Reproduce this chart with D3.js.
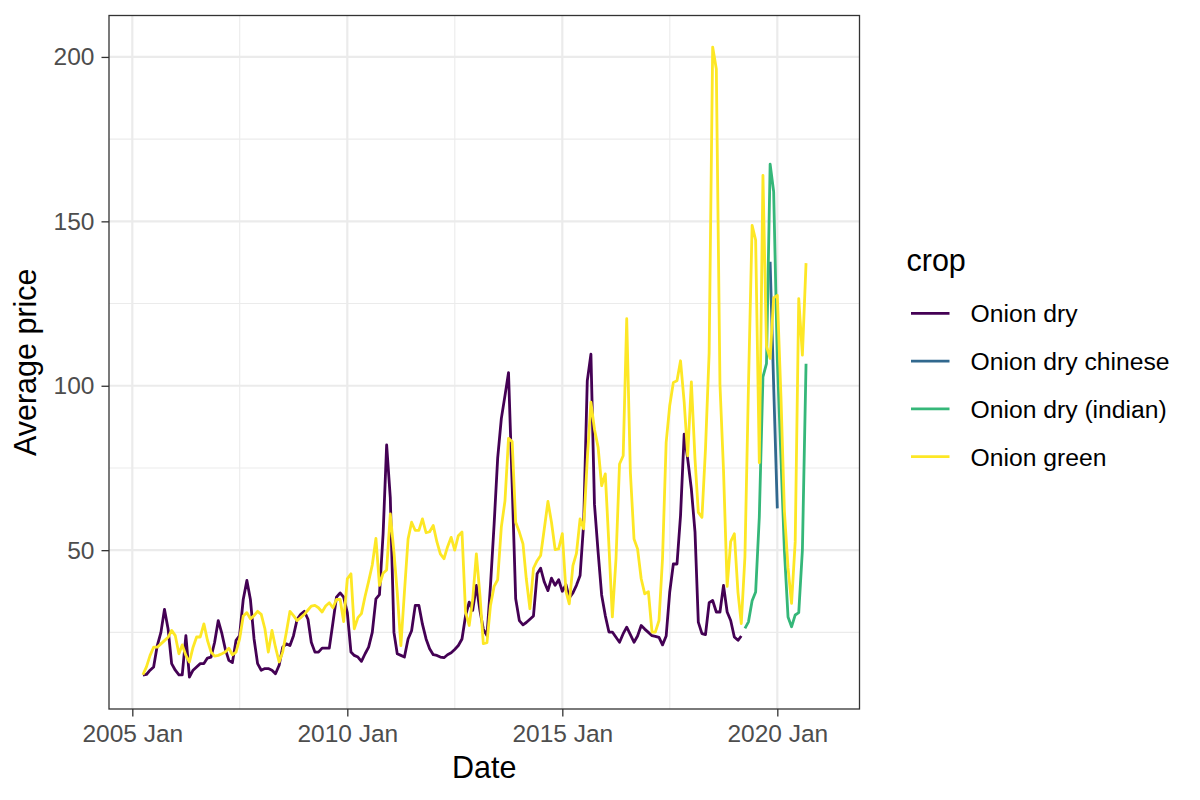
<!DOCTYPE html>
<html>
<head>
<meta charset="utf-8">
<script src="https://cdn.jsdelivr.net/npm/d3@7"></script>
<style>
  body { margin: 0; background: #fff; }
  text { font-family: "Liberation Sans", Arial, sans-serif; }
</style>
</head>
<body>
<div id="chart"></div>
<script>
// crops and colours (viridis, 4 levels)
const crops = ["Onion dry", "Onion dry chinese", "Onion dry (indian)", "Onion green"];
const cropColors = ["#440154", "#31688E", "#35B779", "#FDE725"];

// monthly average prices, first month given by the *Start strings
const dryStart = "2005-04";
const dry = [
  12, 12.2, 13.5, 14.5, 21, 25, 32, 26, 15.5, 13.5,
  12.1, 12.1, 24, 11.4, 13.5, 14.5, 15.5, 15.5, 17.2, 17.5,
  22, 28.6, 24.6, 20, 16.5, 15.8, 22.6, 24, 35, 40.8,
  35, 23, 15.5, 13.5, 14, 14, 13.5, 12.4, 15, 20.5,
  21.5, 21, 24, 29, 30.5, 31.4, 29, 22, 19, 19,
  20.2, 20.2, 20.2, 28, 35.7, 37, 35.7, 31, 19, 18,
  17.5, 16.2, 18.5, 20.5, 25, 35.2, 36.5, 55, 82, 66,
  25, 18.5, 18, 17.5, 23, 25.5, 33.2, 33.2, 27.5, 23,
  20, 18.2, 18, 17.5, 17.3, 18.2, 18.8, 19.8, 21, 23,
  30, 34.2, 31.7, 39.3, 31.5, 26, 24, 39.3, 58, 78,
  90, 97, 104, 70, 35.2, 28.6, 27.3, 28, 29, 30,
  42.8, 44.5, 40.3, 37.7, 41.5, 39.3, 41, 37.5, 39.5, 35.5,
  37, 39.3, 42.3, 58, 101.5, 109.6, 64, 49.4, 36.4, 30.1,
  25.1, 25.1, 23.5, 22, 24.6, 26.6, 24.3, 22, 23.9, 27.1,
  26, 25, 24, 23.8, 23.5, 21.2, 23.9, 37.2, 45.8, 45.8,
  60.5, 85.3, 77.7, 68.6, 55.5, 28.1, 24.6, 24.3, 34, 34.7,
  31.2, 31.2, 39.3, 31.2, 28.6, 23.6, 22.6, 23.9
];

const chineseStart = "2019-11";
const chinese = [137.7, 100, 62.7];

const indianStart = "2019-04";
const indian = [
  26.2, 28.2, 34.6, 37.3, 60, 102.7, 106.7, 167.4, 159, 108,
  78, 50, 29.7, 26.7, 30.3, 31, 50, 106.7
];

const greenStart = "2005-04";
const green = [
  12.1, 14.5, 18, 20.5, 20.5, 21.5, 22.5, 23.5, 25.6, 24,
  18.5, 21.2, 18, 16, 20.5, 23.6, 23.6, 27.6, 22.6, 19,
  17.8, 18, 18.5, 19, 20.2, 18.2, 19, 23, 30, 31,
  29.1, 30.1, 31.4, 30.5, 26.1, 19, 25.6, 20.5, 16, 19,
  25, 31.4, 30.1, 28.6, 29.5, 30.5, 31.8, 33, 33.2, 32.5,
  31.2, 33, 34, 32.5, 35, 35, 28.3, 41.3, 42.8, 26.1,
  29.5, 30.7, 36, 40.5, 45.5, 53.6, 39.3, 43, 44, 61,
  49.4, 37.2, 21, 37.2, 53.4, 58.5, 56, 56, 59.5, 55.3,
  55.6, 57.5, 52.5, 48.9, 47.4, 51, 53.9, 50, 54.4, 55.5,
  31.2, 27.1, 35, 48.9, 36, 21.6, 21.9, 33.2, 39, 41,
  57, 65, 84, 83, 58.5, 55.5, 51.9, 41.3, 32.2, 44.5,
  46.8, 48.4, 56.5, 64.8, 58.5, 50.2, 50.4, 55, 37.5, 33.7,
  45.3, 49, 59.5, 56.5, 77.7, 95, 86.8, 81.3, 69.6, 73.2,
  51.4, 29.7, 47.4, 76.2, 78.7, 120.4, 73.7, 53.4, 50.4, 41.3,
  36.7, 37.4, 25.1, 25.1, 28.6, 47.4, 82.8, 93.9, 101, 101.5,
  107.6, 95, 78.7, 101.2, 77.7, 61.5, 60, 80.8, 110, 203,
  196.3, 100.3, 74.3, 39, 52.6, 55, 37.1, 27.7, 48, 100,
  148.8, 144.3, 76.6, 164, 112, 108.3, 126.7, 127.5, 96.6, 62,
  44.6, 33.8, 52.6, 126.5, 109.3, 137.3
];

// axis breaks and limits
const xTicks = ["2005-01-01", "2010-01-01", "2015-01-01", "2020-01-01"];
const xMinor = ["2007-07-02", "2012-07-02", "2017-07-02"];
const xLimits = ["2004-06-17", "2021-11-29"];
const yTicks = [50, 100, 150, 200];
const yMinor = [25, 75, 125, 175];
const yLimits = [1.7, 212.6];

const parseMonth = d3.utcParse("%Y-%m");
const parseDay = d3.utcParse("%Y-%m-%d");

function monthly(start, values) {
  const t0 = parseMonth(start);
  return values.map((v, i) => ({ date: d3.utcMonth.offset(t0, i), value: v }));
}

const series = [
  monthly(dryStart, dry),
  monthly(chineseStart, chinese),
  monthly(indianStart, indian),
  monthly(greenStart, green)
];

// canvas
const margin = { top: 15.5, right: 340.5, bottom: 91, left: 109 };
const width = 1200 - margin.left - margin.right;
const height = 800 - margin.top - margin.bottom;

const svg = d3.select("#chart")
  .append("svg")
  .attr("width", 1200)
  .attr("height", 800);

const g = svg.append("g")
  .attr("transform", `translate(${margin.left},${margin.top})`);

// scales
const x = d3.scaleUtc()
  .domain(xLimits.map(parseDay))
  .range([0, width]);

const y = d3.scaleLinear()
  .domain(yLimits)
  .range([height, 0]);

// grid
g.selectAll(".grid-minor-x")
  .data(xMinor.map(parseDay))
  .enter().append("line")
  .attr("x1", d => x(d)).attr("x2", d => x(d))
  .attr("y1", 0).attr("y2", height)
  .attr("stroke", "#EBEBEB").attr("stroke-width", 1.1);

g.selectAll(".grid-minor-y")
  .data(yMinor)
  .enter().append("line")
  .attr("x1", 0).attr("x2", width)
  .attr("y1", d => y(d)).attr("y2", d => y(d))
  .attr("stroke", "#EBEBEB").attr("stroke-width", 1.1);

g.selectAll(".grid-major-x")
  .data(xTicks.map(parseDay))
  .enter().append("line")
  .attr("x1", d => x(d)).attr("x2", d => x(d))
  .attr("y1", 0).attr("y2", height)
  .attr("stroke", "#EBEBEB").attr("stroke-width", 2.2);

g.selectAll(".grid-major-y")
  .data(yTicks)
  .enter().append("line")
  .attr("x1", 0).attr("x2", width)
  .attr("y1", d => y(d)).attr("y2", d => y(d))
  .attr("stroke", "#EBEBEB").attr("stroke-width", 2.2);

// lines
const line = d3.line()
  .x(d => x(d.date))
  .y(d => y(d.value));

g.selectAll(".crop-line")
  .data(series)
  .enter().append("path")
  .attr("class", "crop-line")
  .attr("d", line)
  .attr("fill", "none")
  .attr("stroke", (d, i) => cropColors[i])
  .attr("stroke-width", 2.8)
  .attr("stroke-linejoin", "round");

// panel border
g.append("rect")
  .attr("width", width)
  .attr("height", height)
  .attr("fill", "none")
  .attr("stroke", "#333333")
  .attr("stroke-width", 1.3);

// axes
const xAxis = g.append("g")
  .attr("transform", `translate(0,${height})`)
  .call(d3.axisBottom(x)
    .tickValues(xTicks.map(parseDay))
    .tickFormat(d3.utcFormat("%Y %b"))
    .tickSize(7.5)
    .tickPadding(8));

const yAxis = g.append("g")
  .call(d3.axisLeft(y)
    .tickValues(yTicks)
    .tickSize(7.5)
    .tickPadding(7));

[xAxis, yAxis].forEach(a => {
  a.select(".domain").remove();
  a.selectAll(".tick line").attr("stroke", "#333333").attr("stroke-width", 1.3);
  a.selectAll(".tick text")
    .attr("fill", "#4D4D4D")
    .style("font-size", "24.5px")
    .style("font-family", '"Liberation Sans", Arial, sans-serif');
});

// axis titles
svg.append("text")
  .attr("x", margin.left + width / 2)
  .attr("y", 778)
  .attr("text-anchor", "middle")
  .style("font-size", "30.5px")
  .text("Date");

svg.append("text")
  .attr("transform", `translate(35.5,${margin.top + height / 2}) rotate(-90)`)
  .attr("text-anchor", "middle")
  .style("font-size", "30.5px")
  .text("Average price");

// legend
const legend = svg.append("g")
  .attr("transform", "translate(906.5,0)");

legend.append("text")
  .attr("x", 0)
  .attr("y", 271)
  .style("font-size", "30.5px")
  .text("crop");

const item = legend.selectAll(".key")
  .data(crops)
  .enter().append("g")
  .attr("transform", (d, i) => `translate(0,${313.3 + i * 47.8})`);

item.append("line")
  .attr("x1", 4.5).attr("x2", 43)
  .attr("stroke", (d, i) => cropColors[i])
  .attr("stroke-width", 2.8);

item.append("text")
  .attr("x", 64)
  .attr("dy", "0.36em")
  .style("font-size", "24.7px")
  .text(d => d);
</script>
</body>
</html>
